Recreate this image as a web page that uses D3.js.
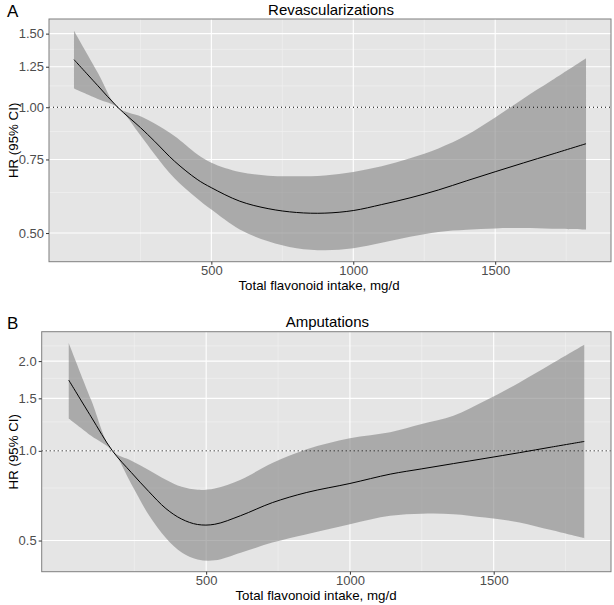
<!DOCTYPE html>
<html>
<head>
<meta charset="utf-8">
<script src="https://cdn.jsdelivr.net/npm/d3@7"></script>
<style>
  html, body { margin: 0; padding: 0; background: #ffffff; }
  svg { display: block; font-family: "Liberation Sans", Arial, Helvetica, sans-serif; }
</style>
</head>
<body>
<svg id="chart" width="614" height="605"></svg>
<script>
// ---------------- DATA ----------------
// Panel A: Revascularizations
const revascX     = [16, 100, 170, 250, 300, 370, 450, 500, 600, 700, 800, 900, 1000, 1100, 1200, 1300, 1400, 1500, 1600, 1700, 1820];
const revascHR    = [1.30, 1.126, 1.00, 0.894, 0.829, 0.743, 0.672, 0.642, 0.596, 0.572, 0.560, 0.558, 0.566, 0.585, 0.607, 0.634, 0.667, 0.701, 0.736, 0.772, 0.818];
const revascLower = [1.109, 1.047, 1.00, 0.857, 0.772, 0.676, 0.605, 0.569, 0.510, 0.478, 0.460, 0.455, 0.460, 0.474, 0.490, 0.503, 0.509, 0.513, 0.514, 0.512, 0.510];
const revascUpper = [1.524, 1.21, 1.00, 0.951, 0.914, 0.853, 0.772, 0.737, 0.700, 0.686, 0.684, 0.687, 0.700, 0.722, 0.755, 0.797, 0.858, 0.945, 1.050, 1.160, 1.310];

// Panel B: Amputations
const amputX      = [22, 100, 174, 240, 300, 360, 415, 470, 530, 620, 730, 850, 1000, 1140, 1250, 1360, 1470, 1590, 1700, 1815];
const amputHR     = [1.727, 1.30, 1.00, 0.845, 0.731, 0.640, 0.590, 0.566, 0.567, 0.606, 0.670, 0.725, 0.777, 0.835, 0.870, 0.906, 0.943, 0.986, 1.029, 1.075];
const amputLower  = [1.284, 1.124, 1.00, 0.773, 0.610, 0.510, 0.456, 0.432, 0.429, 0.455, 0.492, 0.525, 0.567, 0.605, 0.615, 0.613, 0.597, 0.575, 0.542, 0.509];
const amputUpper  = [2.30, 1.48, 1.00, 0.927, 0.863, 0.800, 0.757, 0.740, 0.748, 0.800, 0.910, 1.013, 1.103, 1.155, 1.230, 1.310, 1.472, 1.695, 1.954, 2.268];

// Axis breaks
const xTicks      = [500, 1000, 1500];
const xMinor      = [250, 750, 1250, 1750];
const revascTicks = [0.50, 0.75, 1.00, 1.25, 1.50];
const revascMinor = [0.625, 0.875, 1.125, 1.375];
const amputTicks  = [0.5, 1.0, 1.5, 2.0];
const amputMinor  = [0.75, 1.25, 1.75, 2.25];

const panels = [
  { tag: "A", title: "Revascularizations", x: revascX, hr: revascHR, lo: revascLower, hi: revascUpper,
    yTicks: revascTicks, yMinor: revascMinor, yFmt: d3.format(".2f"),
    left: 49, right: 611, top: 19, bottom: 261.7, xDomain: [-72, 1908], yDomain: [0.427, 1.626],
    titleY: 15, tagY: 17, xTitleX: 319, xTitleY: 289.5 },
  { tag: "B", title: "Amputations", x: amputX, hr: amputHR, lo: amputLower, hi: amputUpper,
    yTicks: amputTicks, yMinor: amputMinor, yFmt: d3.format(".1f"),
    left: 41.7, right: 611, top: 331.7, bottom: 571.7, xDomain: [-72, 1908], yDomain: [0.393, 2.51],
    titleY: 327, tagY: 329, xTitleX: 316, xTitleY: 600 }
];

const svg = d3.select("#chart");
const curve = d3.curveCatmullRom.alpha(0.5);

panels.forEach(p => {
  const x = d3.scaleLinear().domain(p.xDomain).range([p.left, p.right]);
  const y = d3.scaleLog().domain(p.yDomain).range([p.bottom, p.top]);
  const g = svg.append("g");

  // panel background
  g.append("rect").attr("x", p.left).attr("y", p.top)
    .attr("width", p.right - p.left).attr("height", p.bottom - p.top)
    .attr("fill", "#e5e5e5");

  // minor grid
  g.selectAll(".ymin").data(p.yMinor.filter(v => v > p.yDomain[0] && v < p.yDomain[1])).enter()
    .append("line").attr("x1", p.left).attr("x2", p.right)
    .attr("y1", d => y(d)).attr("y2", d => y(d))
    .attr("stroke", "#f2f2f2").attr("stroke-width", 0.6);
  g.selectAll(".xmin").data(xMinor).enter()
    .append("line").attr("y1", p.top).attr("y2", p.bottom)
    .attr("x1", d => x(d)).attr("x2", d => x(d))
    .attr("stroke", "#f2f2f2").attr("stroke-width", 0.6);
  // major grid
  g.selectAll(".ymaj").data(p.yTicks).enter()
    .append("line").attr("x1", p.left).attr("x2", p.right)
    .attr("y1", d => y(d)).attr("y2", d => y(d))
    .attr("stroke", "#ffffff").attr("stroke-width", 1.1);
  g.selectAll(".xmaj").data(xTicks).enter()
    .append("line").attr("y1", p.top).attr("y2", p.bottom)
    .attr("x1", d => x(d)).attr("x2", d => x(d))
    .attr("stroke", "#ffffff").attr("stroke-width", 1.1);

  // ribbon
  const rows = p.x.map((v, i) => ({ x: v, hr: p.hr[i], lo: p.lo[i], hi: p.hi[i] }));
  const area = d3.area().x(d => x(d.x)).y0(d => y(d.lo)).y1(d => y(d.hi)).curve(curve);
  g.append("path").datum(rows).attr("d", area)
    .attr("fill", "#868686").attr("fill-opacity", 0.62);

  // reference line at HR = 1
  g.append("line").attr("x1", p.left).attr("x2", p.right)
    .attr("y1", y(1)).attr("y2", y(1))
    .attr("stroke", "#000").attr("stroke-width", 1).attr("stroke-dasharray", "1,3");

  // HR curve
  const line = d3.line().x(d => x(d.x)).y(d => y(d.hr)).curve(curve);
  g.append("path").datum(rows).attr("d", line)
    .attr("fill", "none").attr("stroke", "#000").attr("stroke-width", 1);

  // panel border
  g.append("rect").attr("x", p.left).attr("y", p.top)
    .attr("width", p.right - p.left).attr("height", p.bottom - p.top)
    .attr("fill", "none").attr("stroke", "#7f7f7f").attr("stroke-width", 1);

  // axes
  const xAxis = d3.axisBottom(x).tickValues(xTicks).tickSize(3).tickPadding(1.5).tickFormat(d3.format("d"));
  const xg = g.append("g").attr("transform", `translate(0,${p.bottom})`).call(xAxis);
  xg.select(".domain").remove();
  xg.selectAll("line").attr("stroke", "#333");
  xg.selectAll("text").attr("fill", "#4d4d4d").style("font-size", "13px")
    .style("font-family", "Liberation Sans, Arial, sans-serif");

  const yAxis = d3.axisLeft(y).tickValues(p.yTicks).tickSize(3).tickPadding(2).tickFormat(p.yFmt);
  const yg = g.append("g").attr("transform", `translate(${p.left},0)`).call(yAxis);
  yg.select(".domain").remove();
  yg.selectAll("line").attr("stroke", "#333");
  yg.selectAll("text").attr("fill", "#4d4d4d").style("font-size", "13px")
    .style("font-family", "Liberation Sans, Arial, sans-serif");

  // titles
  g.append("text").attr("x", (p.left + p.right) / 2 + 1).attr("y", p.titleY)
    .attr("text-anchor", "middle").style("font-size", "15px").attr("fill", "#000")
    .text(p.title);
  g.append("text").attr("x", 7).attr("y", p.tagY)
    .style("font-size", "17px").attr("fill", "#000").text(p.tag);
  g.append("text").attr("x", p.xTitleX).attr("y", p.xTitleY)
    .attr("text-anchor", "middle").style("font-size", "13.3px").attr("fill", "#000")
    .text("Total flavonoid intake, mg/d");
  g.append("text").attr("transform", `translate(17.5,${(p.top + p.bottom) / 2}) rotate(-90)`)
    .attr("text-anchor", "middle").style("font-size", "13.3px").attr("fill", "#000")
    .text("HR (95% CI)");
});
</script>
</body>
</html>
